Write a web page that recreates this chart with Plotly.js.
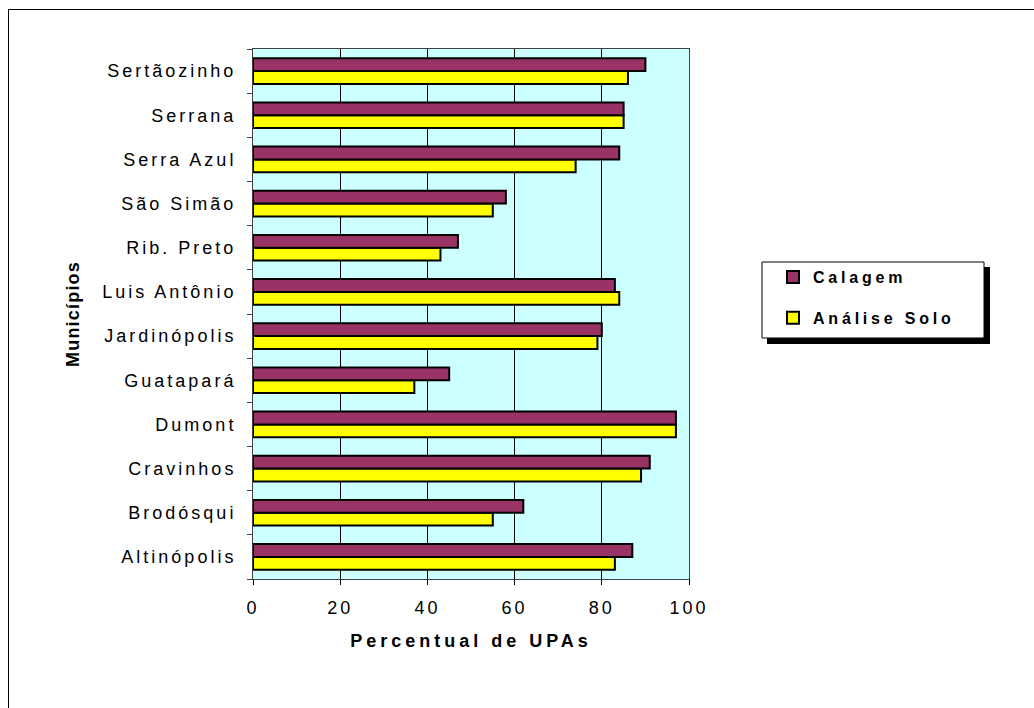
<!DOCTYPE html>
<html>
<head>
<meta charset="utf-8">
<script src="https://cdn.plot.ly/plotly-3.0.1.min.js"></script>
<style>
  html, body { margin: 0; padding: 0; background: #fff; overflow: hidden; }
  #wrap { position: relative; width: 1034px; height: 708px; }
  #chart { width: 1034px; height: 708px; }
  #frame { position: absolute; left: 8px; top: 9px; width: 1100px; height: 800px; border: 1px solid #000; pointer-events: none; }
  .ytick text, .xtick text { letter-spacing: 3px; }
  .xtitle { letter-spacing: 4px; }
  .ytitle { letter-spacing: 1.2px; }
  .legendtext { letter-spacing: 3.8px; }
</style>
</head>
<body>
<div id="wrap">
  <div id="chart"></div>
  <div id="frame"></div>
</div>
<script>
const municipios = ["Altinópolis", "Brodósqui", "Cravinhos", "Dumont", "Guatapará", "Jardinópolis", "Luis Antônio", "Rib. Preto", "São Simão", "Serra Azul", "Serrana", "Sertãozinho"];
const calagem = [87, 62, 91, 97, 45, 80, 83, 47, 58, 84, 85, 90];
const analiseSolo = [83, 55, 89, 97, 37, 79, 84, 43, 55, 74, 85, 86];
const xTicks = [0, 20, 40, 60, 80, 100];

const FONT = '"Liberation Sans", Arial, sans-serif';

const traces = [
  {
    type: 'bar', orientation: 'h', name: 'Análise Solo',
    y: municipios, x: analiseSolo, legendgroup: 'b', legendrank: 2,
    marker: { color: '#FFFF00', line: { color: '#000000', width: 2 } },
    hoverinfo: 'x+y+name'
  },
  {
    type: 'bar', orientation: 'h', name: 'Calagem',
    y: municipios, x: calagem, legendgroup: 'a', legendrank: 1,
    marker: { color: '#993366', line: { color: '#000000', width: 2 } },
    hoverinfo: 'x+y+name'
  }
];

const layout = {
  width: 1034, height: 708,
  margin: { l: 253, r: 345, t: 49, b: 129, pad: 0 },
  paper_bgcolor: '#ffffff',
  plot_bgcolor: '#CCFFFF',
  font: { family: FONT, color: '#000', size: 18 },
  barmode: 'group',
  bargap: 0.42,
  bargroupgap: 0,
  showlegend: true,
  legend: {
    x: 1.19266, y: 0.60189, xanchor: 'left', yanchor: 'top',
    bgcolor: 'rgba(0,0,0,0)', borderwidth: 0,
    font: { family: FONT, size: 16, weight: 'bold', color: '#000' },
    traceorder: 'grouped', tracegroupgap: 17
  },
  xaxis: {
    range: [0, 100], tickvals: xTicks, ticktext: xTicks.map(String),
    showgrid: true, gridcolor: '#000', gridwidth: 1,
    zeroline: false, showline: true, linecolor: '#404040', linewidth: 1, mirror: true,
    ticks: 'outside', ticklen: 5, tickcolor: '#000', ticklabelstandoff: 7,
    tickfont: { family: FONT, size: 18 },
    title: { text: 'Percentual de UPAs', font: { family: FONT, size: 18, weight: 'bold' }, standoff: 17 },
    fixedrange: true
  },
  yaxis: {
    type: 'category', categoryorder: 'array', categoryarray: municipios,
    showgrid: false, zeroline: false, showline: true, linecolor: '#404040', linewidth: 1, mirror: true,
    ticks: 'outside', ticklen: 5, tickcolor: '#404040', tickson: 'boundaries', ticklabelstandoff: 12,
    tickfont: { family: FONT, size: 18 },
    title: { text: 'Municípios', font: { family: FONT, size: 18, weight: 'bold' }, standoff: 18 },
    fixedrange: true
  },
  shapes: [
    { type: 'rect', xref: 'paper', yref: 'paper', x0: 1.17890, x1: 1.69037, y0: 0.44340, y1: 0.58868,
      fillcolor: '#000', line: { width: 0 }, layer: 'above' },
    { type: 'rect', xref: 'paper', yref: 'paper', x0: 1.16743, x1: 1.67661, y0: 0.45472, y1: 0.59811,
      fillcolor: '#fff', line: { width: 1, color: '#000' }, layer: 'above' }
  ]
};

Plotly.newPlot('chart', traces, layout, { displayModeBar: false, responsive: false });
</script>
</body>
</html>
